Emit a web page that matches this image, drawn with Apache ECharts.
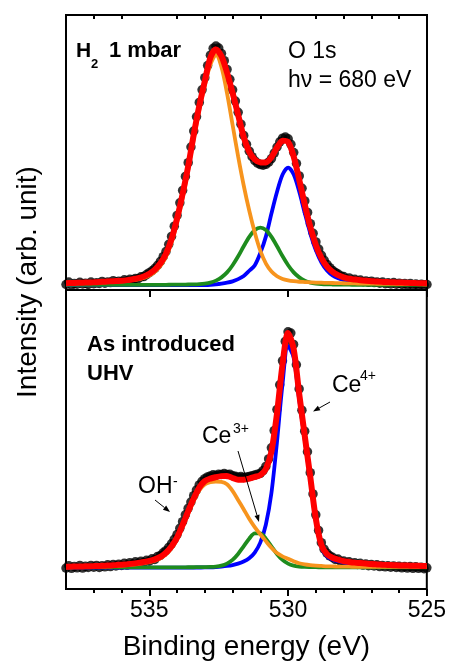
<!DOCTYPE html>
<html>
<head>
<meta charset="utf-8">
<script src="https://cdn.jsdelivr.net/npm/echarts@6/dist/echarts.min.js"></script>
<style>
html, body { margin: 0; padding: 0; background: #fff; }
#chart { width: 449px; height: 662px; }
</style>
</head>
<body>
<div id="chart"></div>
<script>
// O 1s photoemission spectra of ceria, hv = 680 eV.
// Binding-energy samples: fitted curves every 0.2 eV, measured points every 0.1 eV (538 -> 525 eV).
function energyGrid(start, end, step) {
  const out = [];
  const n = Math.round((start - end) / step);
  for (let i = 0; i <= n; i++) out.push(+(start - i * step).toFixed(2));
  return out;
}
const fitEnergy = energyGrid(538, 525, 0.2);
const dataEnergy = energyGrid(538, 525, 0.1);

// ---- H2 1 mbar ----
const h2Measured = [
  2.0, 2.9, 1.9, 2.4, 2.1, 2.8, 2.2, 2.5, 2.0, 2.9,
  2.3, 2.6, 2.4, 3.1, 2.5, 2.9, 2.7, 3.4, 2.8, 3.2,
  3.0, 3.7, 3.3, 3.9, 3.6, 4.2, 4.1, 4.8, 4.9, 5.6,
  6.3, 7.0, 7.9, 9.0, 10.4, 12.1, 14.0, 16.6, 19.5, 23.2,
  27.1, 31.7, 36.2, 41.3, 46.3, 52.0, 57.8, 63.0, 68.2, 72.8,
  77.2, 81.6, 85.4, 87.9, 88.7, 88.0, 86.0, 83.4, 80.2, 76.6,
  72.8, 68.7, 64.6, 60.3, 56.2, 53.0, 50.5, 48.5, 47.0, 46.1,
  45.6, 45.4, 45.7, 46.5, 47.8, 49.8, 52.0, 53.9, 55.2, 55.6,
  55.0, 53.0, 50.0, 46.0, 41.5, 37.0, 32.4, 28.2, 24.1, 20.6,
  17.5, 14.9, 12.6, 10.8, 9.3, 8.1, 7.1, 6.4, 5.8, 5.1,
  4.9, 4.0, 4.4, 3.5, 3.9, 3.2, 3.6, 3.0, 3.3, 2.8,
  3.2, 2.7, 2.9, 2.5, 2.9, 2.3, 2.6, 2.2, 2.7, 2.1,
  2.5, 2.0, 2.4, 1.9, 2.4, 1.8, 2.2, 1.7, 2.1, 1.8,
  2.0
];
const h2Envelope = [
  2.48,
  2.53, 2.6, 2.66, 2.72, 2.8,
  2.91, 3.02, 3.14, 3.25, 3.36,
  3.6, 3.9, 4.3, 4.9, 5.9,
  7.4, 9.7, 13.2, 18.5, 26.0,
  35.0, 45.0, 56.5, 67.0, 76.0,
  84.5, 87.5, 85.0, 79.0, 71.6,
  63.6, 55.6, 50.2, 47.4, 46.4,
  46.4, 48.3, 51.8, 54.3, 53.8,
  48.5, 40.0, 31.0, 22.8, 16.3,
  11.6, 8.5, 6.6, 5.4, 4.6,
  4.1, 3.8, 3.55, 3.35, 3.2,
  3.05, 2.95, 2.87, 2.8, 2.73,
  2.65, 2.58, 2.52, 2.47, 2.42
];
const h2OH = [
  2.35,
  2.4, 2.45, 2.5, 2.55, 2.6,
  2.7, 2.8, 2.9, 3.0, 3.1,
  3.3, 3.55, 3.9, 4.4, 5.2,
  6.6, 8.8, 12.0, 17.2, 24.6,
  33.5, 43.6, 55.0, 65.5, 74.5,
  82.0, 85.5, 81.0, 71.5, 60.0,
  48.5, 38.0, 28.8, 20.8, 14.2,
  9.6, 6.7, 5.0, 4.0, 3.5,
  3.2, 3.0, 2.9, 2.8, 2.7,
  2.65, 2.6, 2.55, 2.5, 2.45,
  2.4, 2.38, 2.35, 2.32, 2.3,
  2.28, 2.25, 2.23, 2.2, 2.18,
  2.15, 2.13, 2.12, 2.1, 2.08
];
const h2Ce3 = [
  1.83,
  1.83, 1.84, 1.84, 1.84, 1.85,
  1.85, 1.85, 1.86, 1.86, 1.86,
  1.87, 1.87, 1.87, 1.88, 1.88,
  1.88, 1.89, 1.9, 1.92, 1.94,
  1.96, 2.0, 2.05, 2.15, 2.35,
  2.7, 3.4, 4.6, 6.4, 9.0,
  12.25, 15.9, 19.3, 21.8, 22.7,
  21.8, 19.3, 15.9, 12.25, 9.0,
  6.4, 4.6, 3.4, 2.7, 2.35,
  2.15, 2.05, 2.0, 1.96, 1.94,
  1.92, 1.9, 1.89, 1.88, 1.88,
  1.87, 1.87, 1.86, 1.86, 1.86,
  1.85, 1.85, 1.84, 1.84, 1.84
];
const h2Ce4 = [
  1.8,
  1.8, 1.8, 1.8, 1.8, 1.8,
  1.8, 1.8, 1.8, 1.8, 1.8,
  1.8, 1.8, 1.8, 1.8, 1.8,
  1.8, 1.8, 1.8, 1.8, 1.8,
  1.8, 1.8, 1.8, 1.8, 1.82,
  1.9, 2.05, 2.3, 2.65, 3.15,
  3.95, 5.1, 7.0, 9.0, 13.5,
  19.5, 27.9, 35.7, 42.0, 44.5,
  42.0, 35.7, 27.9, 20.5, 14.4,
  10.0, 7.1, 5.3, 4.3, 3.7,
  3.3, 3.05, 2.9, 2.75, 2.6,
  2.5, 2.45, 2.4, 2.35, 2.3,
  2.25, 2.2, 2.16, 2.13, 2.1
];

// ---- As introduced, UHV ----
const uhvMeasured = [
  7.0, 7.8, 6.9, 7.5, 7.1, 7.9, 7.0, 7.6, 7.2, 7.9,
  7.3, 7.9, 7.2, 7.8, 7.4, 8.1, 7.5, 8.2, 7.7, 8.3,
  7.9, 8.6, 8.0, 8.8, 8.3, 9.1, 8.6, 9.3, 8.9, 9.6,
  9.3, 10.1, 9.9, 10.9, 11.2, 12.1, 12.8, 13.9, 15.1, 16.6,
  18.2, 20.3, 22.5, 24.8, 27.0, 29.1, 31.2, 33.1, 34.8, 36.0,
  36.9, 37.5, 37.8, 38.2, 38.0, 38.4, 38.3, 38.6, 38.3, 38.4,
  37.9, 37.7, 37.4, 37.6, 37.3, 37.5, 37.6, 37.9, 38.1, 38.4,
  38.7, 39.6, 41.0, 43.5, 47.2, 53.0, 60.0, 68.3, 76.3, 82.8,
  86.0, 85.6, 81.8, 75.0, 66.9, 59.8, 52.8, 45.9, 38.9, 31.8,
  24.8, 19.6, 15.5, 13.3, 12.0, 11.1, 10.6, 9.9, 10.0, 9.2,
  9.4, 8.7, 9.1, 8.4, 8.8, 8.2, 8.6, 8.0, 8.4, 7.8,
  8.2, 7.7, 8.1, 7.5, 7.9, 7.4, 7.8, 7.3, 7.7, 7.2,
  7.6, 7.1, 7.5, 7.0, 7.5, 6.9, 7.4, 6.9, 7.3, 6.8,
  7.1
];
const uhvEnvelope = [
  7.47,
  7.49, 7.53, 7.56, 7.61, 7.66,
  7.72, 7.8, 7.89, 8.01, 8.14,
  8.3, 8.49, 8.74, 9.03, 9.38,
  9.91, 10.75, 12.14, 14.2, 17.16,
  21.41, 25.97, 30.25, 33.94, 36.07,
  36.92, 37.4, 37.75, 37.83, 37.13,
  36.52, 36.57, 36.93, 37.47, 38.07,
  40.13, 45.87, 58.52, 74.93, 85.58,
  80.4, 65.4, 51.37, 37.57, 23.59,
  14.77, 11.66, 10.45, 9.85, 9.32,
  9.05, 8.82, 8.66, 8.5, 8.34,
  8.22, 8.11, 8.03, 7.96, 7.9,
  7.84, 7.8, 7.76, 7.73, 7.69
];
const uhvOH = [
  7.25,
  7.27, 7.3, 7.33, 7.36, 7.4,
  7.45, 7.52, 7.6, 7.7, 7.82,
  7.96, 8.13, 8.35, 8.62, 8.95,
  9.45, 10.25, 11.6, 13.6, 16.5,
  20.7, 25.2, 29.4, 33.0, 35.0,
  35.7, 35.9, 35.8, 35.0, 32.8,
  29.8, 26.7, 23.5, 20.7, 18.3,
  16.0, 13.8, 12.0, 10.9, 10.1,
  9.3, 8.6, 8.2, 7.95, 7.8,
  7.7, 7.6, 7.55, 7.5, 7.48,
  7.46, 7.44, 7.43, 7.42, 7.41,
  7.4, 7.39, 7.39, 7.38, 7.38,
  7.37, 7.37, 7.36, 7.36, 7.35
];
const uhvCe3 = [
  7.2,
  7.2, 7.2, 7.2, 7.21, 7.21,
  7.21, 7.21, 7.21, 7.22, 7.22,
  7.22, 7.22, 7.23, 7.23, 7.23,
  7.23, 7.24, 7.24, 7.25, 7.26,
  7.26, 7.27, 7.28, 7.29, 7.32,
  7.37, 7.5, 7.8, 8.48, 9.73,
  11.72, 14.27, 16.83, 18.6, 18.6,
  16.83, 14.27, 11.72, 9.73, 8.48,
  7.8, 7.5, 7.37, 7.32, 7.29,
  7.27, 7.26, 7.25, 7.25, 7.24,
  7.24, 7.23, 7.23, 7.23, 7.23,
  7.22, 7.22, 7.22, 7.22, 7.22,
  7.21, 7.21, 7.21, 7.21, 7.21
];
const uhvCe4 = [
  7.18,
  7.18, 7.18, 7.18, 7.18, 7.18,
  7.18, 7.18, 7.18, 7.18, 7.18,
  7.18, 7.18, 7.18, 7.18, 7.18,
  7.18, 7.18, 7.18, 7.18, 7.18,
  7.18, 7.18, 7.18, 7.19, 7.2,
  7.25, 7.35, 7.5, 7.7, 8.0,
  8.5, 9.2, 10.3, 12.2, 15.5,
  21.5, 32.0, 49.0, 68.5, 81.2,
  77.5, 63.5, 50.0, 36.5, 22.7,
  14.0, 11.0, 9.85, 9.3, 8.8,
  8.55, 8.35, 8.2, 8.05, 7.9,
  7.8, 7.7, 7.62, 7.56, 7.5,
  7.46, 7.42, 7.39, 7.36, 7.33
];

// Axis ticks (eV)
const majorTicks = [525, 530, 535];
const minorTicks = [526, 527, 528, 529, 531, 532, 533, 534, 536, 537];

const FONT = 'Arial, "Liberation Sans", Helvetica, sans-serif';
const COLORS = { measured: '#000000', envelope: '#ff0000', oh: '#f7941d', ce3: '#1e8c1e', ce4: '#0000ff' };

function pairs(xs, ys) { return xs.map((x, i) => [x, ys[i]]); }

function energyAxis(gridIndex, position, ticks, tickLen, inside, withLabels) {
  const ax = {
    type: 'value', gridIndex, position, min: 525, max: 538, inverse: true,
    axisLine: { show: false },
    splitLine: { show: false },
    axisTick: { show: true, inside, length: tickLen, customValues: ticks,
                lineStyle: { color: '#000', width: 2 } },
    axisLabel: { show: false }
  };
  if (withLabels) {
    ax.axisLabel = { show: true, customValues: ticks, color: '#000', fontFamily: FONT,
                     fontSize: 23, margin: 10, formatter: v => String(v) };
    ax.name = 'Binding energy (eV)';
    ax.nameLocation = 'middle';
    ax.nameGap = 44;
    ax.nameTextStyle = { color: '#000', fontFamily: FONT, fontSize: 28 };
  }
  return ax;
}

function measuredSeries(xi, yi, values) {
  return { type: 'scatter', xAxisIndex: xi, yAxisIndex: yi, data: pairs(dataEnergy, values),
           symbol: 'circle', symbolSize: 9.5, itemStyle: { color: COLORS.measured }, z: 2, silent: true };
}
function fitSeries(xi, yi, values, color, width, z) {
  return { type: 'line', xAxisIndex: xi, yAxisIndex: yi, data: pairs(fitEnergy, values),
           showSymbol: false, smooth: 0.3, lineStyle: { color, width }, z, silent: true };
}

function text(str, x, y, size, bold) {
  return { type: 'text', x, y, z: 100,
           style: { text: str, fill: '#000', font: (bold ? 'bold ' : '') + size + 'px ' + FONT,
                    align: 'left', verticalAlign: 'middle' } };
}
function arrow(x1, y1, x2, y2) {
  const a = Math.atan2(y2 - y1, x2 - x1), L = 7, W = 2.6;
  const bx = x2 - L * Math.cos(a), by = y2 - L * Math.sin(a);
  const px = -Math.sin(a) * W, py = Math.cos(a) * W;
  return [
    { type: 'line', z: 100, shape: { x1, y1, x2: bx, y2: by }, style: { stroke: '#000', lineWidth: 1 } },
    { type: 'polygon', z: 100, shape: { points: [[x2, y2], [bx + px, by + py], [bx - px, by - py]] },
      style: { fill: '#000' } }
  ];
}

const chart = echarts.init(document.getElementById('chart'), null, { renderer: 'canvas' });
chart.setOption({
  animation: false,
  backgroundColor: '#fff',
  grid: [
    { left: 66, right: 22, top: 15, height: 275, show: true, borderColor: '#000', borderWidth: 2, backgroundColor: 'transparent' },
    { left: 66, right: 22, top: 290, height: 299, show: true, borderColor: '#000', borderWidth: 2, backgroundColor: 'transparent' }
  ],
  xAxis: [
    energyAxis(0, 'top', majorTicks, 7, true, false),
    energyAxis(0, 'top', minorTicks, 4, true, false),
    energyAxis(1, 'bottom', majorTicks, 7, false, true),
    energyAxis(1, 'bottom', minorTicks, 4, false, false)
  ],
  yAxis: [
    { type: 'value', gridIndex: 0, min: 0, max: 100, show: false },
    { type: 'value', gridIndex: 1, min: 0, max: 100, show: false }
  ],
  series: [
    measuredSeries(0, 0, h2Measured),
    fitSeries(0, 0, h2Ce4, COLORS.ce4, 3.8, 3),
    fitSeries(0, 0, h2Ce3, COLORS.ce3, 3.8, 4),
    fitSeries(0, 0, h2OH, COLORS.oh, 3.8, 5),
    fitSeries(0, 0, h2Envelope, COLORS.envelope, 6, 6),
    measuredSeries(2, 1, uhvMeasured),
    fitSeries(2, 1, uhvCe4, COLORS.ce4, 3.8, 3),
    fitSeries(2, 1, uhvCe3, COLORS.ce3, 3.8, 4),
    fitSeries(2, 1, uhvOH, COLORS.oh, 3.8, 5),
    fitSeries(2, 1, uhvEnvelope, COLORS.envelope, 6, 6)
  ],
  graphic: [
    { type: 'text', x: 28, y: 282, rotation: Math.PI / 2, z: 100,
      style: { text: 'Intensity (arb. unit)', fill: '#000', font: '28px ' + FONT, align: 'center', verticalAlign: 'middle' } },
    text('H', 76, 51, 21, true),
    text('2', 91, 64, 13, true),
    text('1 mbar', 109, 51, 22, true),
    text('O 1s', 288, 52, 23, false),
    text('h\u03bd = 680 eV', 288, 81, 23, false),
    text('As introduced', 87, 345, 22, true),
    text('UHV', 87, 374, 22, true),
    text('Ce', 332, 386, 23, false),
    text('4+', 360, 376, 14, false),
    text('Ce', 202, 437, 23, false),
    text('3+', 233, 429, 14, false),
    text('OH', 138, 487, 23, false),
    text('-', 173, 482, 14, false),
    ...arrow(330, 402, 313, 411.5),
    ...arrow(238, 451, 259, 522),
    ...arrow(155, 500, 170, 512)
  ]
});
</script>
</body>
</html>
